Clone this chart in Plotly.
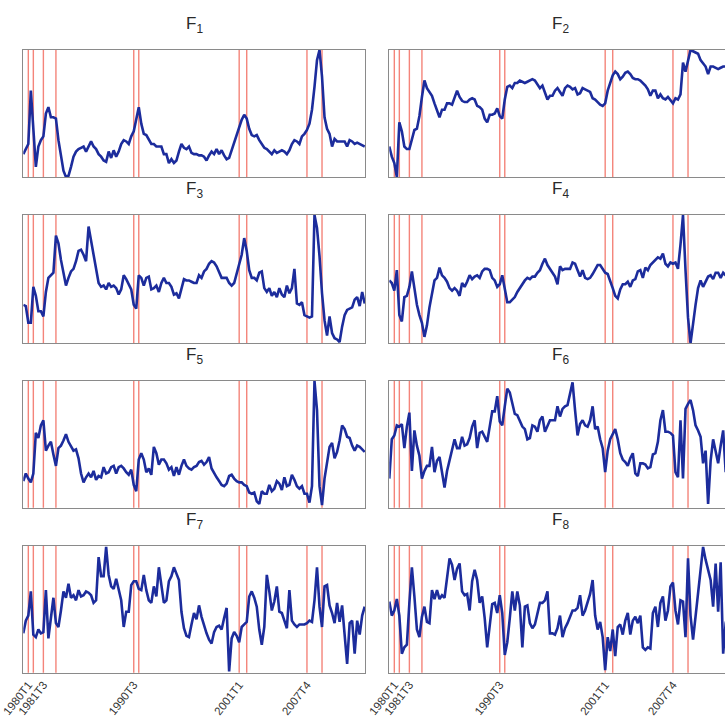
import plotly.graph_objects as go

# ---------------- data ----------------
start_label = "1979T3"          # first quarter of the sample
recession_dates = ["1980T1", "1980T3", "1981T3", "1982T4", "1990T3",
                   "1991T1", "2001T1", "2001T4", "2007T4", "2009T2"]
tick_labels = ["1980T1", "1981T3", "1990T3", "2001T1", "2007T4"]
titles = ["F<sub>1</sub>", "F<sub>2</sub>", "F<sub>3</sub>", "F<sub>4</sub>",
          "F<sub>5</sub>", "F<sub>6</sub>", "F<sub>7</sub>", "F<sub>8</sub>"]

F1 = [18,22,26,68,39,8,24,29,32,50, 55,47,47,46,29,16,5,0,1,8,
      16,20,22,23,24,20,24,28,24,22, 18,16,13,12,20,15,21,16,20,26,
      29,28,26,32,36,46,55,42,34,33, 29,26,26,24,24,24,18,18,11,14,
      11,13,20,26,23,22,24,19,18,18, 17,17,16,13,17,20,18,22,18,21,
      17,14,15,21,28,33,39,45,49,46, 38,33,32,33,29,26,23,22,20,18,
      21,19,20,21,20,18,21,26,29,28, 26,32,34,37,42,53,71,92,100,79,
      47,38,34,24,30,28,28,28,28,24, 29,28,26,27,26,25,24]
F2 = [24,16,11,0,43,36,24,22,22,29, 37,38,48,63,76,70,67,64,58,53,
      47,53,53,58,58,57,63,68,63,60, 59,59,61,62,61,56,55,53,46,43,
      49,49,50,54,48,46,61,71,72,70, 74,74,76,75,74,75,76,77,76,73,
      70,72,66,61,64,64,68,70,67,64, 70,72,71,69,70,65,66,70,69,68,
      67,62,61,59,57,56,58,68,74,80, 83,81,77,79,82,83,81,78,77,77,
      76,74,72,69,64,68,68,62,65,62, 61,63,60,58,62,61,65,90,83,92,
      100,99,98,97,92,89,87,81,87,87, 86,85,86,87,87,88,87]
F3 = [30,29,16,16,44,37,25,25,21,40, 51,53,55,84,78,65,56,45,51,56,
      58,64,72,73,69,64,91,80,69,57, 47,44,45,42,47,44,45,43,38,42,
      53,50,46,42,30,27,53,51,45,51, 52,42,43,45,40,47,51,47,47,44,
      38,39,35,43,50,49,49,48,47,47, 53,51,56,58,62,64,63,60,56,51,
      51,51,47,45,47,55,61,69,82,72, 57,51,51,49,55,56,43,40,43,37,
      40,36,43,38,36,45,39,43,58,31, 30,32,22,21,20,21,100,90,68,39,
      18,6,21,8,4,3,1,13,22,26, 27,28,34,36,29,40,31]
F4 = [49,47,41,57,22,17,36,37,44,56, 43,30,22,16,5,14,28,40,49,51,
      59,53,51,48,43,41,43,41,37,47, 44,48,53,50,52,53,51,56,58,58,
      57,51,49,44,46,53,41,32,32,34, 36,40,43,47,49,51,50,52,52,55,
      57,62,66,61,58,56,52,46,60,57, 58,58,58,63,62,57,52,57,51,50,
      51,54,58,61,61,58,55,54,49,43, 37,35,42,46,46,48,44,49,50,56,
      57,51,59,57,61,63,65,67,66,70, 62,60,63,62,63,58,77,100,57,20,
      0,16,30,43,49,44,48,52,53,50, 55,55,51,55,53,55,54]
F5 = [21,27,23,20,27,59,55,65,69,45, 49,52,42,33,47,49,53,58,52,49,
      45,46,39,27,20,24,27,24,29,22, 25,24,32,27,28,32,33,27,32,33,
      31,28,26,30,18,13,38,43,38,28, 31,26,48,43,34,38,38,35,30,32,
      25,32,26,33,38,33,31,30,32,33, 36,37,34,36,40,31,27,24,21,18,
      17,19,25,26,23,21,20,20,18,17, 12,11,12,5,3,13,11,11,18,13,
      15,21,19,14,24,17,18,26,22,17, 15,17,11,11,4,17,100,77,17,2,
      23,35,48,51,39,44,53,65,62,56, 55,49,45,49,48,46,44]
F6 = [23,54,57,65,64,66,47,64,75,29, 61,49,41,23,29,33,33,48,28,37,
      40,27,16,29,38,46,54,47,47,56, 49,50,55,64,69,47,59,60,56,52,
      64,76,76,88,68,65,80,94,91,81, 74,73,69,64,62,54,55,65,64,60,
      69,72,60,65,69,69,69,80,72,78, 80,81,90,99,77,57,66,69,65,64,
      69,80,62,64,54,47,28,45,54,58, 62,54,43,38,36,33,39,43,27,25,
      35,35,34,31,32,42,43,52,69,77, 60,60,59,57,28,24,69,23,78,82,
      85,77,65,61,56,35,45,3,37,54, 45,35,49,61,28,40,37]
F7 = [31,41,45,64,30,28,34,31,32,65, 27,41,59,39,36,49,64,59,70,59,
      61,57,65,60,61,64,63,61,55,57, 91,76,76,99,77,68,66,74,66,57,
      36,48,48,69,72,72,66,65,77,65, 57,55,68,60,83,68,55,57,72,76,
      83,78,73,48,35,29,28,38,47,42, 53,44,37,31,26,23,32,36,37,34,
      43,51,1,27,32,29,24,36,38,40, 60,64,59,52,34,22,36,77,64,49,
      56,68,48,47,41,35,65,41,38,36, 38,38,38,39,41,40,57,83,52,36,
      68,69,53,47,39,55,40,53,32,7, 39,41,15,41,30,45,52]
F8 = [56,45,49,58,45,15,20,22,55,83, 60,34,28,44,52,40,39,65,58,65,
      58,61,59,77,90,85,73,82,86,64, 61,62,49,72,81,73,55,60,43,20,
      40,54,55,47,61,47,14,24,43,64, 49,64,53,20,52,53,39,35,38,48,
      55,55,57,64,31,31,30,35,45,28, 35,39,44,49,49,51,61,45,49,56,
      62,73,45,34,40,28,2,28,17,34, 13,36,38,30,41,47,30,41,44,39,
      45,20,18,20,19,47,52,36,55,60, 41,49,68,71,49,38,57,56,28,90,
      45,26,45,62,83,99,89,81,73,52, 86,48,87,15,39,47,45]

series = [F1, F2, F3, F4, F5, F6, F7, F8]

# ---------------- helpers ----------------
def qnum(label):
    return int(label[:4]) + (int(label[-1]) - 1) / 4.0

x0 = qnum(start_label)
xs = [x0 + k / 4.0 for k in range(len(F1))]

W, H = 725, 719
col_px = [(23.3, 365.0), (389.3, 731.0)]
row_px = [(50.0, 177.0), (215.0, 343.3), (381.0, 507.7), (545.7, 672.7)]
x_end_full = xs[-1] + 0.03

BLUE = "#1c2c9c"
RED = "#f4847a"
BORDER = "#8a8a8a"
FONT = "Liberation Sans, Arial, sans-serif"

fig = go.Figure()
shapes = []
annotations = []

for i, data in enumerate(series):
    r, c = divmod(i, 2)
    n = i + 1
    xa = "x" if n == 1 else f"x{n}"
    ya = "y" if n == 1 else f"y{n}"
    l_px, r_px = col_px[c]
    t_px, b_px = row_px[r]
    vis_r = min(r_px, W)
    span = x_end_full - x0
    x_hi = x0 + span * (vis_r - l_px) / (r_px - l_px)
    dom_x = [l_px / W, vis_r / W]
    dom_y = [1 - b_px / H, 1 - t_px / H]

    fig.add_trace(go.Scatter(x=xs, y=data, mode="lines",
                             line=dict(color=BLUE, width=2.6),
                             xaxis=xa, yaxis=ya, showlegend=False,
                             hoverinfo="skip"))
    bottom = (r == 3)
    fig.layout[("xaxis" if n == 1 else f"xaxis{n}")] = dict(
        domain=dom_x, range=[x0, x_hi], anchor=ya, automargin=False,
        showgrid=False, zeroline=False,
        showline=True, mirror=True, linecolor=BORDER, linewidth=1,
        tickmode="array",
        tickvals=[qnum(t) for t in tick_labels] if bottom else [],
        ticktext=tick_labels if bottom else [],
        showticklabels=bottom,
        tickangle=-52, ticks="", ticklen=0,
        tickfont=dict(family=FONT, size=11.5, color="#333333"),
    )
    fig.layout[("yaxis" if n == 1 else f"yaxis{n}")] = dict(
        domain=dom_y, range=[0, 100], anchor=xa, automargin=False,
        showgrid=False, zeroline=False, showticklabels=False, ticks="",
        showline=True, mirror=(c == 0), linecolor=BORDER, linewidth=1,
    )
    for d in recession_dates:
        shapes.append(dict(type="line", xref=xa, yref=f"{ya} domain",
                           x0=qnum(d), x1=qnum(d), y0=0, y1=1,
                           line=dict(color=RED, width=1.4), layer="below"))
    annotations.append(dict(text=titles[i], xref="paper", yref="paper",
                            x=((l_px + r_px) / 2) / W,
                            y=1 - (t_px - 25) / H,
                            xanchor="center", yanchor="middle", showarrow=False,
                            font=dict(family=FONT, size=17, color="#2a2a2a")))

fig.update_layout(width=W, height=H, margin=dict(l=0, r=0, t=0, b=0),
                  paper_bgcolor="white", plot_bgcolor="white",
                  shapes=shapes, annotations=annotations, showlegend=False)

fig.write_html("out.html", config={"displayModeBar": False},
               post_script="document.body.style.margin='0';document.body.style.overflow='hidden';")
